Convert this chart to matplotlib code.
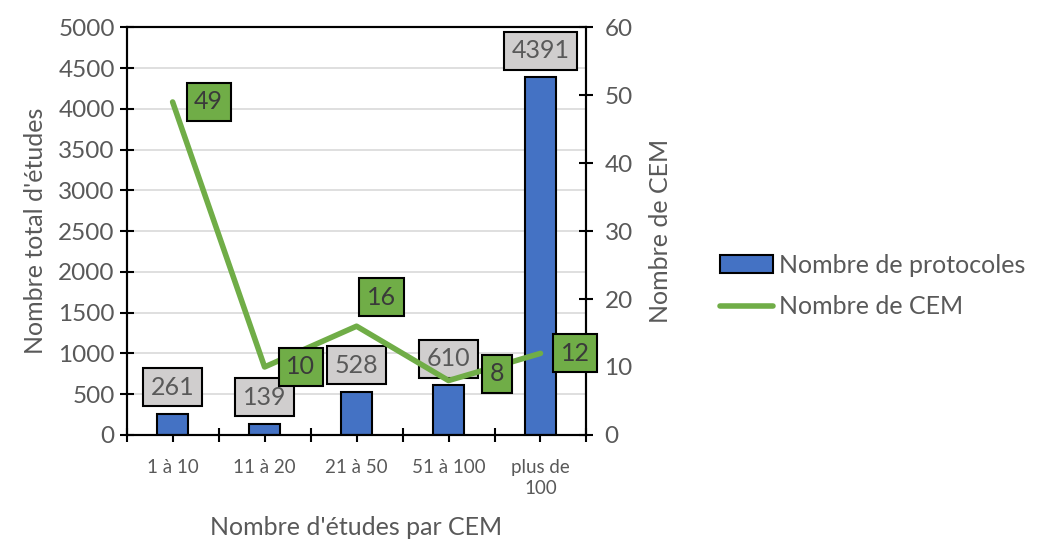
import matplotlib.pyplot as plt
from matplotlib.patches import Patch
from matplotlib.lines import Line2D

categories = ['1 à 10', '11 à 20', '21 à 50', '51 à 100', 'plus de\n100']
protocoles = [261, 139, 528, 610, 4391]
cem = [49, 10, 16, 8, 12]
# label offsets for the CEM boxes (points)
cem_offsets = [(26, 0), (26, 0), (18, 21), (35, 5), (25, 0)]

plt.rcParams['font.family'] = ['Lato', 'DejaVu Sans']
grey = '#595959'
blue = '#4472C4'
green = '#70AD47'

fig = plt.figure(figsize=(10.38, 5.45), dpi=100)
ax = fig.add_axes([0.122, 0.202, 0.443, 0.748])
ax2 = ax.twinx()

x = list(range(len(categories)))
ax.bar(x, protocoles, width=0.34, color=blue, edgecolor='black', linewidth=1.5, zorder=2)
ax2.plot(x, cem, color=green, lw=4, solid_capstyle='round', zorder=3)

ax.set_xlim(-0.5, 4.5)
ax.set_ylim(0, 5000)
ax.set_yticks(range(0, 5001, 500))
ax2.set_ylim(0, 60)
ax2.set_yticks(range(0, 61, 10))
ax.grid(axis='y', color='#D9D9D9', lw=1.2, zorder=0)
ax.set_axisbelow(True)

ax.set_xticks(x)
ax.set_xticklabels(categories, color=grey, linespacing=1.3)
ax.set_xticks([i - 0.5 for i in range(len(categories) + 1)], minor=True)
for a in (ax, ax2):
    a.tick_params(which='both', direction='inout', length=10, width=1.5, color='black',
                  labelsize=17.5, labelcolor=grey)
    for s in a.spines.values():
        s.set_linewidth(1.5)
ax.tick_params(axis='x', which='major', pad=12, labelsize=13.5)
ax2.tick_params(axis='y', pad=8)

ax.set_ylabel("Nombre total d'études", fontsize=18, color=grey, labelpad=8)
ax2.set_ylabel('Nombre de CEM', fontsize=18, color=grey, labelpad=12)
ax.set_xlabel("Nombre d'études par CEM", fontsize=18, color=grey, labelpad=14)

for xi, v in zip(x, protocoles):
    ax.annotate(str(v), (xi, v), xytext=(0, 19), textcoords='offset points',
                ha='center', va='center', fontsize=18, color=grey, zorder=5,
                bbox=dict(boxstyle='square,pad=0.3', fc='#D0CECE', ec='black', lw=1.5))
for xi, v, off in zip(x, cem, cem_offsets):
    ax2.annotate(str(v), (xi, v), xytext=off, textcoords='offset points',
                 ha='center', va='center', fontsize=18, color='#3A3A3A', zorder=5,
                 bbox=dict(boxstyle='square,pad=0.3', fc=green, ec='black', lw=1.5))

handles = [Patch(facecolor=blue, edgecolor='black', linewidth=1.5),
           Line2D([], [], color=green, lw=4, solid_capstyle='round')]
fig.legend(handles, ['Nombre de protocoles', 'Nombre de CEM'], loc='center left',
           bbox_to_anchor=(0.694, 0.475), frameon=False, fontsize=18, borderpad=0,
           borderaxespad=0, labelcolor=grey, handlelength=2.1, handletextpad=0.25,
           labelspacing=0.75)

fig.savefig('out.png', dpi=100)
